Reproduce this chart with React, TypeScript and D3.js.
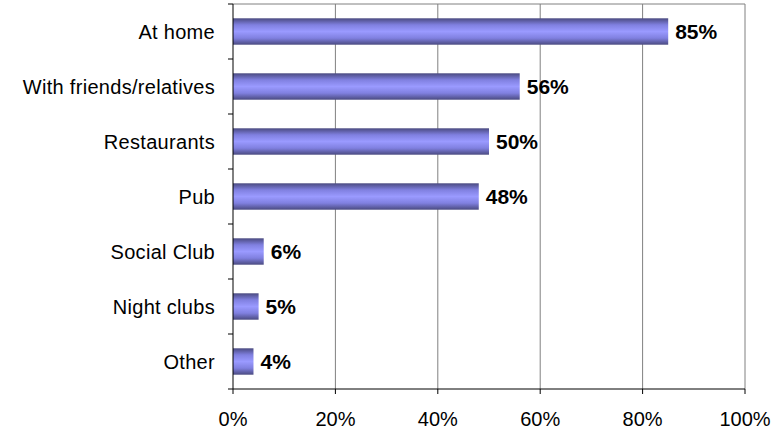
import React from "react";
import * as d3 from "d3";

const categories = ["At home", "With friends/relatives", "Restaurants", "Pub", "Social Club", "Night clubs", "Other"];
const values = [85, 56, 50, 48, 6, 5, 4];
const xTicks = [0, 20, 40, 60, 80, 100];

export default function App() {
  const W = 776, H = 432;
  const left = 233, right = 745, top = 4, bottom = 389;
  const x = d3.scaleLinear().domain([0, 100]).range([left, right]);
  const y = d3.scaleBand<string>().domain(categories).range([top, bottom]).paddingInner(0.52).paddingOuter(0.26);
  const band = (bottom - top) / categories.length;
  const font = "'Liberation Sans', Arial, sans-serif";
  return (
    <div style={{ position: "absolute", left: 0, top: 0 }}>
      <svg width={W} height={H} style={{ display: "block" }}>
        <defs>
          <linearGradient id="barGrad" x1="0" y1="0" x2="0" y2="1">
            <stop offset="0" stopColor="#4a4a80" />
            <stop offset="0.25" stopColor="#8080e0" />
            <stop offset="0.5" stopColor="#9a9aff" />
            <stop offset="0.75" stopColor="#8080e0" />
            <stop offset="1" stopColor="#4a4a80" />
          </linearGradient>
        </defs>
        <rect x={0} y={0} width={W} height={H} fill="#fff" />
        {xTicks.slice(1).map((t) => (
          <line key={t} x1={x(t)} x2={x(t)} y1={top} y2={bottom} stroke="#808080" strokeWidth={1} />
        ))}
        <line x1={left} x2={right} y1={top} y2={top} stroke="#808080" strokeWidth={1} />
        {categories.map((c, i) => (
          <rect key={c} x={x(0)} y={y(c)} width={x(values[i]) - x(0)} height={y.bandwidth()} fill="url(#barGrad)" />
        ))}
        <line x1={left} x2={left} y1={top} y2={bottom} stroke="#000" strokeWidth={1} />
        <line x1={left} x2={right} y1={bottom} y2={bottom} stroke="#000" strokeWidth={1} />
        {d3.range(categories.length + 1).map((i) => (
          <line key={i} x1={left - 5} x2={left} y1={top + i * band} y2={top + i * band} stroke="#000" />
        ))}
        {xTicks.map((t) => (
          <line key={t} x1={x(t)} x2={x(t)} y1={bottom} y2={bottom + 5} stroke="#000" />
        ))}
        {xTicks.map((t) => (
          <text key={t} x={x(t)} y={426} textAnchor="middle" fontFamily={font} fontSize={20} fill="#000">{t}%</text>
        ))}
        {categories.map((c) => (
          <text key={c} x={215} y={(y(c) as number) + y.bandwidth() / 2 + 7} textAnchor="end" fontFamily={font} fontSize={20} letterSpacing={0.3} fill="#000">{c}</text>
        ))}
        {categories.map((c, i) => (
          <text key={c} x={x(values[i]) + 7} y={(y(c) as number) + y.bandwidth() / 2 + 7} fontFamily={font} fontSize={21} fontWeight="bold" fill="#000">{values[i]}%</text>
        ))}
      </svg>
    </div>
  );
}
